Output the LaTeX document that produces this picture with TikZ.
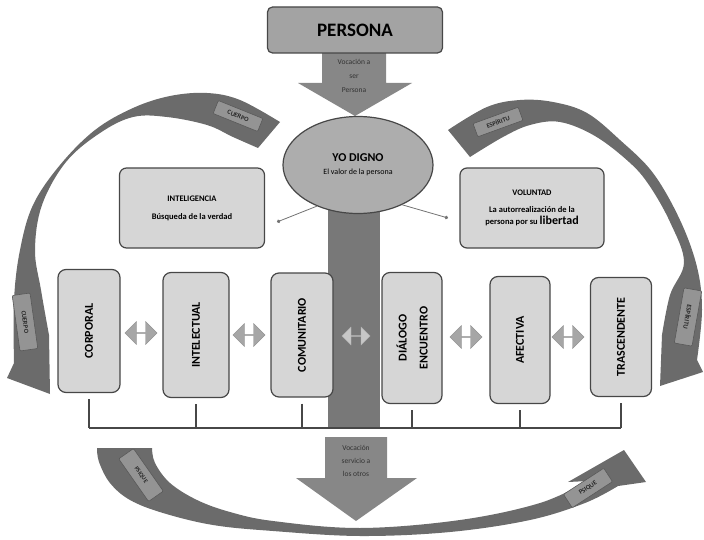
\documentclass[tikz,border=0pt]{standalone}
\usepackage{fontspec}
\setmainfont{Carlito}
\usetikzlibrary{arrows.meta,positioning,shapes.geometric,shapes.arrows}

\begin{document}
\begin{tikzpicture}[
    x=1pt, y=-1pt,
    >=Latex,
    font=\bfseries,
    box/.style={draw=black!72, line width=1.2pt, fill=black!16, rounded corners=7pt, align=center},
    vbox/.style={box, rounded corners=8pt},
    vtext/.style={rotate=90, align=center, font=\bfseries\fontsize{12}{21}\selectfont},
    darrow/.style={double arrow, fill=black!35, draw=black!42, minimum height=32pt, minimum width=23pt, double arrow head extend=5pt, inner sep=0pt},
    band/.style={fill=black!58},
    blockarrow/.style={fill=black!47},
    tag/.style={fill=black!42, draw=black!65, line width=0.6pt, rounded corners=1pt, inner sep=1pt, font=\bfseries\fontsize{6.5}{7}\selectfont, text=black!85},
    link/.style={draw=black!55, line width=0.8pt, -{Circle[length=3.5pt]}},
    tick/.style={draw=black!72, line width=1.2pt}
]
    \useasboundingbox (0,0) rectangle (704,540);

    % --- 1. flechas curvas (fondo) ---
    % CUERPO (izquierda)
    \fill[band] plot[smooth, tension=0.6] coordinates {(280,122) (240,100) (207,93) (170,96) (133,108) (95,130) (60,165) (33,205) (20,250) (14,300) (14,363)}
        -- (7,378) -- (50,394)
        -- plot[smooth, tension=0.6] coordinates {(49,335) (41,290) (35,250) (42,205) (66,162) (100,133) (133,117) (167,117) (207,125) (233,137) (258,148)} -- cycle;

    % ESPIRITU (derecha)
    \fill[band] plot[smooth, tension=0.6] coordinates {(448,130) (487,107) (520,100) (553,102) (587,113) (620,140) (653,173) (680,220) (697,267) (702,310) (697,360)}
        -- (703,372) -- (660,386)
        -- plot[smooth, tension=0.6] coordinates {(662,335) (670,295) (684,262) (670,222) (649,185) (629,162) (595,136) (560,122) (530,125) (503,137) (470,157)} -- cycle;

    % PSIQUE (abajo)
    \fill[band] plot[smooth, tension=0.6] coordinates {(97,448) (99,462) (110,483) (130,500) (163,513) (213,525) (273,531) (360,536) (450,532) (530,520) (585,503) (618,486)}
        -- (646,482) -- (624,450) -- (568,482)
        -- plot[smooth, tension=0.6] coordinates {(588,481) (540,503) (460,520) (360,528) (273,521) (230,512) (197,500) (170,483) (155,463) (152,448)} -- cycle;

    % etiquetas de las flechas curvas
    \node[tag, minimum width=48pt, minimum height=14pt, rotate=-22] (tagCuerpoA) at (238,116) {CUERPO};
    \node[tag, minimum width=48pt, minimum height=14pt, rotate=20] (tagEspA) at (498,122) {ESPÍRITU};
    \node[tag, minimum width=56pt, minimum height=18pt, rotate=-82] (tagCuerpoB) at (25,322) {CUERPO};
    \node[tag, minimum width=56pt, minimum height=18pt, rotate=-100] (tagEspB) at (688,317) {ESPÍRITU};
    \node[tag, minimum width=52pt, minimum height=18pt, rotate=-55, font=\bfseries\fontsize{6}{7}\selectfont] (tagPsiA) at (141,475) {PSIQUE};
    \node[tag, minimum width=48pt, minimum height=16pt, rotate=33] (tagPsiB) at (588,488) {PSIQUE};

    % --- 2. columna central y flechas de bloque ---
    \fill[black!53] (328,205) rectangle (380,428);

    % Vocacion a ser Persona
    \fill[blockarrow] (322,53) -- (386,53) -- (386,83) -- (412,83) -- (355,116) -- (298,83) -- (322,83) -- cycle;
    \node[align=center, font=\mdseries\fontsize{7.5}{14}\selectfont, text=black!80] (vocSer) at (354,76) {Vocación a\\ser\\Persona};

    % Vocacion servicio a los otros
    \fill[blockarrow] (325,437) -- (387,437) -- (387,478) -- (417,478) -- (356,521) -- (296,478) -- (325,478) -- cycle;
    \node[align=center, font=\mdseries\fontsize{7.5}{13}\selectfont, text=black!80] (vocServ) at (356,461) {Vocación\\servicio a\\los otros};

    % --- 3. nodos principales ---
    \node[box, rounded corners=5pt, fill=black!36, minimum width=175pt, minimum height=46pt, font=\bfseries\fontsize{19}{22}\selectfont] (persona) at (355,30) {PERSONA};

    \node[ellipse, draw=black!72, line width=1.2pt, fill=black!32, minimum width=150pt, minimum height=97pt, align=center] (yo) at (358,165)
        {{\fontsize{12}{14}\selectfont YO DIGNO}\\[1pt]{\mdseries\fontsize{8}{10}\selectfont El valor de la persona}};

    \node[box, minimum width=145pt, minimum height=80pt, font=\bfseries\fontsize{8.5}{11}\selectfont] (inteli) at (192,208)
        {INTELIGENCIA\\[7pt]Búsqueda de la verdad};
    \node[box, minimum width=144pt, minimum height=80pt, font=\bfseries\fontsize{8.5}{12}\selectfont] (volun) at (532,208)
        {VOLUNTAD\\[5pt]La autorrealización de la\\persona por su {\fontsize{12}{12}\selectfont libertad}};

    % lineas del yo a las facultades
    \coordinate (dotL) at (277,222);
    \coordinate (dotR) at (448,218);
    \draw[link] (yo.225) -- (dotL);
    \draw[link] (yo.318) -- (dotR);

    % --- 4. dimensiones (cajas verticales) ---
    \node[vbox, minimum width=62pt, minimum height=123pt] (corp) at (89,331) {};
    \node[vtext] (corpT) at (corp) {CORPORAL};
    \node[vbox, minimum width=66pt, minimum height=125pt] (intel) at (196,335) {};
    \node[vtext] (intelT) at (intel) {INTELECTUAL};
    \node[vbox, minimum width=62pt, minimum height=124pt] (comun) at (302,335) {};
    \node[vtext] (comunT) at (comun) {COMUNITARIO};
    \node[vbox, minimum width=60pt, minimum height=131pt] (dial) at (412,338) {};
    \node[vtext] (dialT) at (dial) {DIÁLOGO\\ENCUENTRO};
    \node[vbox, minimum width=60pt, minimum height=127pt] (afect) at (520,340) {};
    \node[vtext] (afectT) at (afect) {AFECTIVA};
    \node[vbox, minimum width=61pt, minimum height=119pt] (trasc) at (621,337) {};
    \node[vtext] (trascT) at (trasc) {TRASCENDENTE};

    % flechas dobles entre dimensiones
    \node[darrow] (da1) at (141,333) {};
    \node[darrow] (da2) at (249,335) {};
    \node[darrow, fill=black!22, draw=black!30, minimum height=28pt, minimum width=18pt] (da3) at (356,336) {};
    \node[darrow] (da4) at (466,337) {};
    \node[darrow] (da5) at (568,337) {};

    % --- 5. linea de base ---
    \coordinate (baseL) at (89,428);
    \coordinate (baseR) at (621,428);
    \draw[draw=black!72, line width=2.5pt] (baseL) -- (baseR);
    \foreach \b in {corp, intel, comun, dial, afect, trasc} {
        \draw[tick] ([yshift=-6pt]\b.south) -- (\b.south |- baseL);
    }

\end{tikzpicture}
\end{document}
